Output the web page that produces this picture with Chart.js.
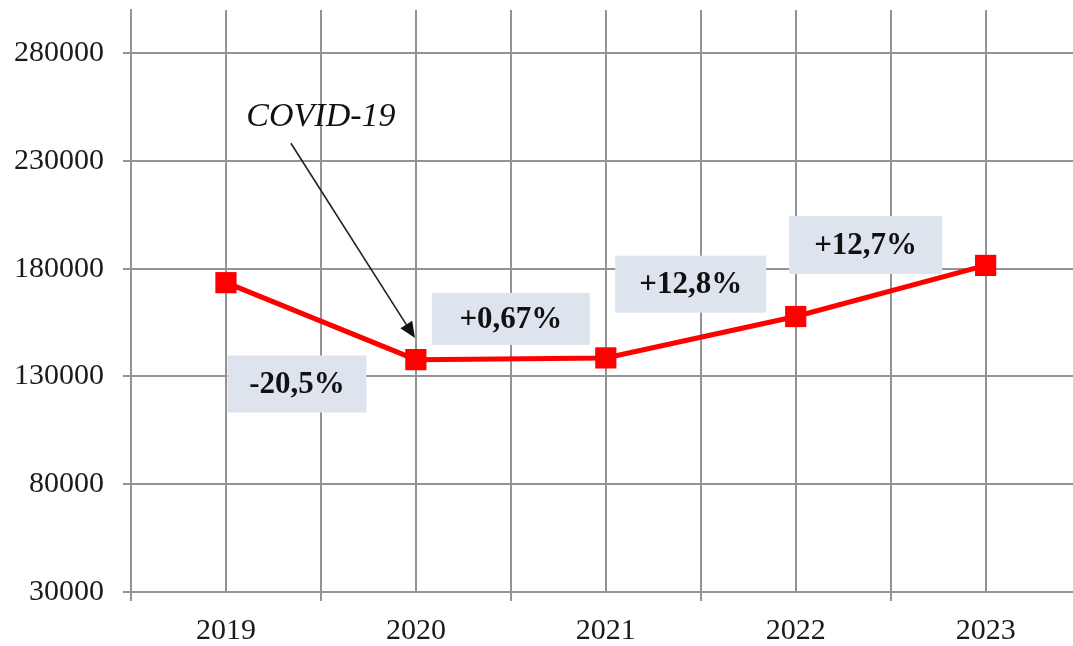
<!DOCTYPE html>
<html>
<head>
<meta charset="utf-8">
<script src="https://cdn.jsdelivr.net/npm/chart.js@4"></script>
<style>
  html, body { margin: 0; padding: 0; background: #fff; overflow: hidden; }
  canvas { display: block; }
</style>
</head>
<body>
<canvas id="chart" width="1073" height="646"></canvas>
<script>
// Data
const years = ['2019', '2020', '2021', '2022', '2023'];
const values = [173500, 137800, 138600, 157800, 181500];
const yTicks = [30000, 80000, 130000, 180000, 230000, 280000];
const xTicks = [-0.5, 0, 0.5, 1, 1.5, 2, 2.5, 3, 3.5, 4];
const changeLabels = ['-20,5%', '+0,67%', '+12,8%', '+12,7%'];
const covidLabel = 'COVID-19';

// where the boxes sit (x in category units, y in axis units), sizes in px
const boxSpots = [
    { x: 0.374, y: 126500, w: 139, h: 57 },
    { x: 1.50, y: 156700, w: 158, h: 52 },
    { x: 2.447, y: 172800, w: 151, h: 57 },
    { x: 3.368, y: 191000, w: 153, h: 58 }
];
const covidSpot = { x: 0.5, y: 250300 };
const arrowFrom = { x: 0.342, y: 238200 };
const arrowTo = { x: 0.995, y: 147800 };

const serif = '"Liberation Serif", "Times New Roman", serif';

const annotations = {
    id: 'annotations',
    beforeDatasetsDraw(chart) {
        const { ctx, scales: { x, y } } = chart;
        ctx.save();
        boxSpots.forEach((s, i) => {
            const cx = x.getPixelForValue(s.x);
            const cy = y.getPixelForValue(s.y);
            ctx.fillStyle = '#dde4ee';
            ctx.fillRect(cx - s.w / 2, cy - s.h / 2, s.w, s.h);
            ctx.fillStyle = '#111';
            ctx.font = 'bold 31px ' + serif;
            ctx.textAlign = 'center';
            ctx.textBaseline = 'middle';
            ctx.fillText(changeLabels[i], cx, cy + 1);
        });
        ctx.restore();
    },
    afterDatasetsDraw(chart) {
        const { ctx, scales: { x, y } } = chart;
        ctx.save();
        // COVID label
        ctx.fillStyle = '#111';
        ctx.font = 'italic 34px ' + serif;
        ctx.textAlign = 'center';
        ctx.textBaseline = 'middle';
        ctx.fillText(covidLabel, x.getPixelForValue(covidSpot.x), y.getPixelForValue(covidSpot.y));

        // arrow
        const x1 = x.getPixelForValue(arrowFrom.x), y1 = y.getPixelForValue(arrowFrom.y);
        const x2 = x.getPixelForValue(arrowTo.x), y2 = y.getPixelForValue(arrowTo.y);
        const ang = Math.atan2(y2 - y1, x2 - x1);
        const headLen = 16, headW = 7;
        const bx = x2 - headLen * Math.cos(ang), by = y2 - headLen * Math.sin(ang);
        ctx.strokeStyle = '#222';
        ctx.lineWidth = 1.6;
        ctx.beginPath();
        ctx.moveTo(x1, y1);
        ctx.lineTo(bx, by);
        ctx.stroke();
        ctx.fillStyle = '#111';
        ctx.beginPath();
        ctx.moveTo(x2, y2);
        ctx.lineTo(bx + headW * Math.sin(ang), by - headW * Math.cos(ang));
        ctx.lineTo(bx - headW * Math.sin(ang), by + headW * Math.cos(ang));
        ctx.closePath();
        ctx.fill();
        ctx.restore();
    }
};

const gridGray = '#939393';

new Chart(document.getElementById('chart'), {
    type: 'line',
    data: {
        datasets: [{
            data: values.map((v, i) => ({ x: i, y: v })),
            borderColor: '#ff0000',
            borderWidth: 5,
            backgroundColor: '#ff0000',
            pointStyle: 'rect',
            pointRadius: 15,
            pointBackgroundColor: '#ff0000',
            pointBorderColor: '#ff0000',
            pointBorderWidth: 0,
            tension: 0,
            clip: false
        }]
    },
    options: {
        responsive: false,
        animation: false,
        layout: { autoPadding: false, padding: { top: 10, right: 0, bottom: 0, left: 0 } },
        plugins: {
            legend: { display: false },
            tooltip: { enabled: false }
        },
        scales: {
            x: {
                type: 'linear',
                min: -0.5,
                max: 4.46,
                afterBuildTicks: (scale) => { scale.ticks = xTicks.map(v => ({ value: v })); },
                afterFit: (scale) => {
                    scale.height = 54;
                    scale.paddingLeft = 0;
                    scale.paddingRight = 0;
                },
                grid: {
                    color: gridGray,
                    lineWidth: 2,
                    tickLength: 9,
                    tickColor: (c) => (c.tick && Number.isInteger(c.tick.value) ? 'rgba(0,0,0,0)' : gridGray)
                },
                border: { color: gridGray, width: 2 },
                ticks: {
                    autoSkip: false,
                    maxRotation: 0,
                    padding: 12,
                    color: '#1a1a1a',
                    font: { family: serif, size: 30 },
                    callback: (v) => (Number.isInteger(v) ? years[v] : '')
                }
            },
            y: {
                min: 30000,
                max: 300000,
                afterBuildTicks: (scale) => { scale.ticks = yTicks.map(v => ({ value: v })); },
                afterFit: (scale) => {
                    scale.width = 131;
                    scale.paddingTop = 0;
                    scale.paddingBottom = 0;
                },
                grid: {
                    color: gridGray,
                    lineWidth: 2,
                    tickLength: 8,
                    tickColor: gridGray
                },
                border: { color: gridGray, width: 2 },
                ticks: {
                    padding: 19,
                    color: '#1a1a1a',
                    font: { family: serif, size: 30 },
                    callback: (v) => String(v)
                }
            }
        }
    },
    plugins: [annotations]
});
</script>
</body>
</html>
